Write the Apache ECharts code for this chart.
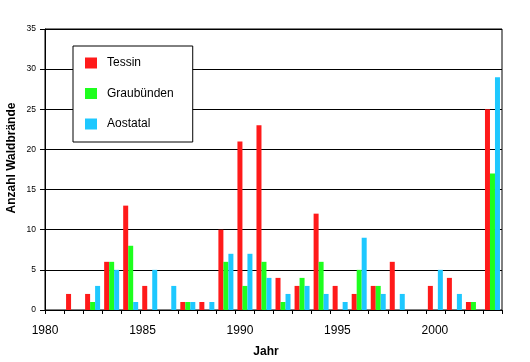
<!DOCTYPE html>
<html>
<head>
<meta charset="utf-8">
<script src="https://cdn.jsdelivr.net/npm/echarts@6/dist/echarts.min.js"></script>
<style>html,body{margin:0;padding:0;background:#fff;}#c{width:530px;height:362px;}</style>
</head>
<body>
<div id="c"></div>
<script>
var years = ['1980','1981','1982','1983','1984','1985','1986','1987','1988','1989','1990','1991','1992','1993','1994','1995','1996','1997','1998','1999','2000','2001','2002','2003'];
var tessin     = [0,2,2,6,13,3,0,1,1,10,21,23,4,3,12,3,2,3,6,0,3,4,1,25];
var graubuenden= [0,0,1,6,8,0,0,1,0,6,3,6,1,4,6,0,5,3,0,0,0,0,1,17];
var aostatal   = [0,0,3,5,1,5,3,1,1,7,7,4,2,3,2,1,9,2,2,0,5,2,0,29];
var yTicks = {min: 0, max: 35, interval: 5};
var xLabelYears = {min: 1980, max: 2003.44, interval: 5};
var seriesNames = ['Tessin','Graubünden','Aostatal'];
var colors = ['#ff1a1a','#1eff1e','#1ec8ff'];

var font = 'Liberation Sans, Arial, sans-serif';
var chart = echarts.init(document.getElementById('c'), null, {renderer: 'canvas'});
var data = [tessin, graubuenden, aostatal];
chart.setOption({
  animation: false,
  backgroundColor: '#fff',
  grid: {left: 45, right: 28, top: 29, bottom: 52, show: true, borderColor: '#000', borderWidth: 1, backgroundColor: 'transparent'},
  legend: {
    orient: 'vertical', left: 73, top: 46,
    data: seriesNames,
    itemWidth: 12, itemHeight: 11, itemGap: 18.5,
    padding: [11, 19, 12, 12],
    backgroundColor: '#fff', borderColor: '#000', borderWidth: 1,
    icon: 'rect',
    textStyle: {fontFamily: font, fontSize: 12, color: '#000', padding: [1, 0, 0, 5]},
    selectedMode: false
  },
  xAxis: [{
    type: 'category', data: years, boundaryGap: true,
    axisLine: {show: true, lineStyle: {color: '#000', width: 1}},
    axisTick: {show: true, interval: 0, length: 4, lineStyle: {color: '#000'}},
    axisLabel: {show: false},
    splitLine: {show: false}
  }, {
    type: 'value', position: 'bottom', min: xLabelYears.min, max: xLabelYears.max, interval: xLabelYears.interval,
    axisLine: {show: false}, axisTick: {show: false}, splitLine: {show: false},
    axisLabel: {show: true, margin: 15, fontFamily: font, fontSize: 12, color: '#000',
      formatter: function (v) { return (Math.abs(v % 5) < 1e-6) ? String(v) : ''; }}
  }],
  yAxis: {
    type: 'value', min: yTicks.min, max: yTicks.max, interval: yTicks.interval,
    axisLine: {show: true, lineStyle: {color: '#000', width: 1}},
    axisTick: {show: true, length: 5, lineStyle: {color: '#000'}},
    axisLabel: {margin: 9, fontFamily: font, fontSize: 8.5, color: '#000'},
    splitLine: {show: true, lineStyle: {color: '#000', width: 1}}
  },
  graphic: [
    {type: 'text', x: 12, y: 158, rotation: Math.PI / 2,
      style: {text: 'Anzahl Waldbrände', font: 'bold 12px ' + font, fill: '#000', textAlign: 'center', textVerticalAlign: 'middle'}},
    {type: 'text', x: 266, y: 352,
      style: {text: 'Jahr', font: 'bold 12px ' + font, fill: '#000', textAlign: 'center', textVerticalAlign: 'middle'}}
  ],
  series: seriesNames.map(function (n, i) {
    return {name: n, type: 'bar', xAxisIndex: 0, data: data[i], barWidth: 5, barGap: '0%',
      itemStyle: {color: colors[i]}};
  })
});
</script>
</body>
</html>
